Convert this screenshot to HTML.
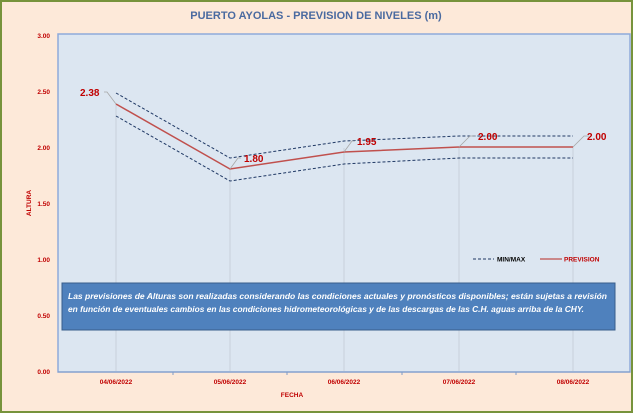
<!DOCTYPE html><html><head><style>body{margin:0}</style></head><body>
<svg width="633" height="413" xmlns="http://www.w3.org/2000/svg" font-family="Liberation Sans, sans-serif" font-weight="bold">
<rect x="1" y="1" width="631" height="411" fill="#fde9d9" stroke="#77933c" stroke-width="2"/>
<text x="316" y="19" text-anchor="middle" font-size="11" fill="#4a6aa0">PUERTO AYOLAS - PREVISION DE NIVELES (m)</text>
<rect x="58" y="34" width="572" height="338" fill="#dce6f1" stroke="#8eaadb" stroke-width="1.5"/>
<g stroke="#c8d0da" stroke-width="1">
<line x1="116" y1="104" x2="116" y2="371"/><line x1="230" y1="170" x2="230" y2="371"/><line x1="344" y1="148" x2="344" y2="371"/><line x1="459" y1="147" x2="459" y2="371"/><line x1="573" y1="147" x2="573" y2="371"/>
</g>
<g stroke="#7f9cc8" stroke-width="1"><line x1="58" y1="372" x2="630" y2="372"/>
<line x1="173" y1="372" x2="173" y2="375"/><line x1="287" y1="372" x2="287" y2="375"/><line x1="402" y1="372" x2="402" y2="375"/><line x1="516" y1="372" x2="516" y2="375"/></g>
<g fill="#c00000" font-size="6.5" text-anchor="end">
<text x="50" y="38">3.00</text><text x="50" y="94">2.50</text><text x="50" y="150">2.00</text><text x="50" y="206">1.50</text><text x="50" y="262">1.00</text><text x="50" y="318">0.50</text><text x="50" y="374">0.00</text>
</g>
<g fill="#c00000" font-size="6.5" text-anchor="middle">
<text x="116" y="384">04/06/2022</text><text x="230" y="384">05/06/2022</text><text x="344" y="384">06/06/2022</text><text x="459" y="384">07/06/2022</text><text x="573" y="384">08/06/2022</text>
<text x="292" y="397">FECHA</text>
<text transform="translate(31,203) rotate(-90)">ALTURA</text>
</g>
<g fill="none" stroke="#1f3864" stroke-width="1" stroke-dasharray="3,2">
<polyline points="116,93 230,158 344,141 459,136 573,136"/>
<polyline points="116,116 230,181 344,164 459,158 573,158"/>
</g>
<polyline fill="none" stroke="#c0504d" stroke-width="1.5" points="116,104 230,169 344,152 459,147 573,147"/>
<g stroke="#a6a6a6" stroke-width="0.8" fill="none">
<polyline points="104,92 107,92 116,104"/><polyline points="241,158 238,158 230,169"/><polyline points="355,141 352,141 344,152"/><polyline points="475,136 470,136 459,147"/><polyline points="589,136 584,136 573,147"/>
</g>
<g fill="#c00000" font-size="10">
<text x="80" y="96">2.38</text><text x="244" y="162">1.80</text><text x="357" y="145">1.95</text><text x="478" y="140">2.00</text><text x="587" y="140">2.00</text>
</g>
<line x1="473" y1="259" x2="494" y2="259" stroke="#1f3864" stroke-dasharray="3,2"/>
<text x="497" y="261.5" font-size="6.5" fill="#000">MIN/MAX</text>
<line x1="540" y1="259" x2="562" y2="259" stroke="#c0504d" stroke-width="1.2"/>
<text x="564" y="261.5" font-size="6.5" fill="#c00000">PREVISION</text>
<rect x="62" y="283" width="553" height="47" fill="#4f81bd" stroke="#385d8a" stroke-width="1"/>
<g fill="#fff" font-size="7.8" font-style="italic">
<text x="68" y="299" textLength="539" lengthAdjust="spacingAndGlyphs">Las previsiones de Alturas son realizadas considerando las condiciones actuales y pronósticos disponibles; están sujetas a revisión</text>
<text x="68" y="312" textLength="516" lengthAdjust="spacingAndGlyphs">en función de eventuales cambios en las condiciones hidrometeorológicas y de las descargas de las C.H. aguas arriba de la CHY.</text>
</g>
</svg>
</body></html>
